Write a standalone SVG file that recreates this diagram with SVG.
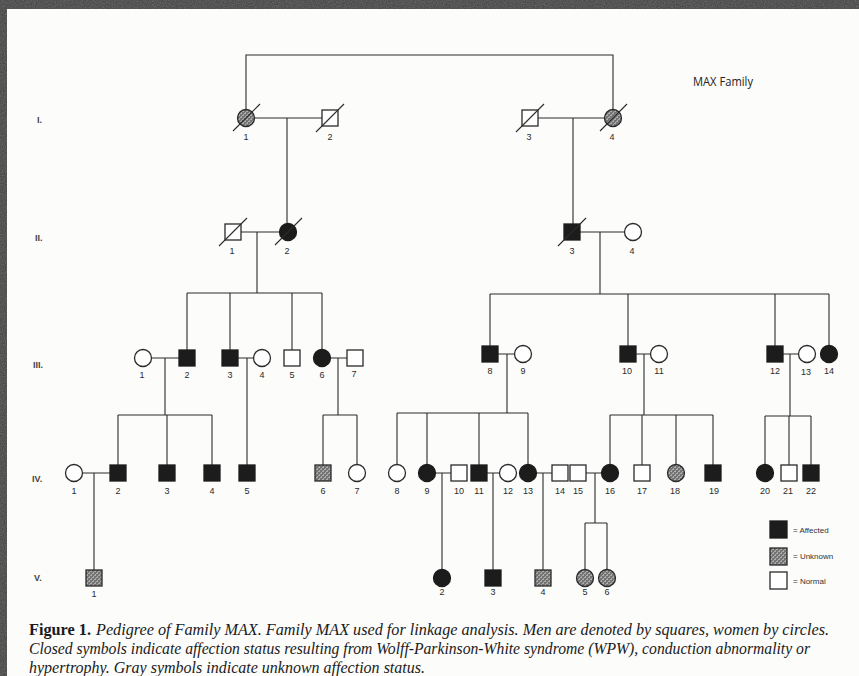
<svg xmlns="http://www.w3.org/2000/svg" width="859" height="676" viewBox="0 0 859 676">
<defs>
<pattern id="hatch" width="4" height="4" patternUnits="userSpaceOnUse">
<rect width="4" height="4" fill="#747474"/>
<path d="M0.5 1.5 L2 0.8 M2.5 3.5 L4 2.8" stroke="#ececec" stroke-width="0.9"/>
</pattern>
<filter id="grain" x="0" y="0" width="100%" height="100%">
<feTurbulence type="fractalNoise" baseFrequency="0.9" numOctaves="2" seed="3"/>
<feColorMatrix type="matrix" values="0 0 0 0 0.25  0 0 0 0 0.25  0 0 0 0 0.25  0 0 0 -1.2 1"/>
</filter>
</defs>
<style>
.ln{stroke:#2a2a2a;stroke-width:1.1;fill:none}
.open{fill:#fff;stroke:#2a2a2a;stroke-width:1.3}
.aff{fill:#1c1c1c;stroke:#1c1c1c;stroke-width:1.3}
.unk{fill:url(#hatch);stroke:#2a2a2a;stroke-width:1.3}
.sl{stroke:#2a2a2a;stroke-width:1.1}
.lbl{font-family:"Liberation Sans",Arial,sans-serif;font-size:9px;fill:#2a2a2a;text-anchor:middle}
.gen{font-family:"Liberation Sans",Arial,sans-serif;font-size:9px;font-weight:bold;fill:#444}
.leg{font-family:"Liberation Sans",Arial,sans-serif;font-size:8px;fill:#333}
.cap{font-family:"Liberation Serif","Times New Roman",serif;font-size:16px;fill:#1a1a1a}
</style>
<rect width="859" height="676" fill="#454545"/>
<rect width="859" height="676" fill="#555" filter="url(#grain)" opacity="0.6"/>
<rect x="7" y="9" width="852" height="667" fill="#fcfcfb"/>

<text class="gen" x="37" y="123">I.</text>
<text class="gen" x="35" y="241">II.</text>
<text class="gen" x="33" y="368">III.</text>
<text class="gen" x="32" y="482">IV.</text>
<text class="gen" x="34" y="581">V.</text>

<text x="693" y="86" font-family="'Open Sans','Liberation Sans',sans-serif" font-size="12" fill="#222" textLength="60" lengthAdjust="spacingAndGlyphs">MAX Family</text>

<g id="connectors" class="ln">
<path d="M246 109.5 V55 H613 V109.5"/>
<path d="M254.5 118 H322 M287 118 V223.5"/>
<path d="M538 118 H604.5 M573 118 V224"/>
<path d="M241 232 H279.5 M257 232 V293"/>
<path d="M580 232 H624.5 M600 232 V294"/>
<path d="M187 293 H322 M187 293 V350 M230 293 V350 M292 293 V350 M322 293 V349.5"/>
<path d="M490 294 H829 M490 294 V346 M628 294 V346 M775 294 V346 M829 294 V345.5"/>
<path d="M151.5 358 H179 M165 358 V415"/>
<path d="M238 358 H253.5 M247 358 V465"/>
<path d="M330.5 358 H347 M338 358 V415"/>
<path d="M498 354 H514.5 M507 354 V413"/>
<path d="M636 354 H650.5 M644 354 V415"/>
<path d="M783 354 H798.5 M790 354 V416"/>
<path d="M118 415 H212 M118 415 V465 M167 415 V465 M212 415 V465"/>
<path d="M323 415 H357 M323 415 V465 M357 415 V464.5"/>
<path d="M397 413 H528 M397 413 V464.5 M427 413 V464.5 M479 413 V465 M528 413 V464.5"/>
<path d="M610 415 H713 M610 415 V464.5 M642 415 V465 M676 415 V464.5 M713 415 V465"/>
<path d="M765 416 H811 M765 416 V464.5 M789 416 V465 M811 416 V465"/>
<path d="M82.5 473 H110 M94 473 V570"/>
<path d="M435.5 473 H451 M442 473 V569.5"/>
<path d="M487 473 H499.5 M493 473 V570"/>
<path d="M536.5 473 H552 M543 473 V570"/>
<path d="M586 473 H601.5 M595 473 V523 M585 523 H607 M585 523 V569.5 M607 523 V569.5"/>
</g>

<g id="I-1"><circle class="unk" cx="246" cy="118" r="8.5"/><line class="sl" x1="233" y1="131" x2="260" y2="104"/><text class="lbl" x="246" y="140">1</text></g>
<g id="I-2"><rect class="open" x="322" y="110" width="16" height="16"/><line class="sl" x1="316" y1="132" x2="344" y2="104"/><text class="lbl" x="330" y="140">2</text></g>
<g id="I-3"><rect class="open" x="522" y="110" width="16" height="16"/><line class="sl" x1="516" y1="132" x2="544" y2="104"/><text class="lbl" x="529" y="140">3</text></g>
<g id="I-4"><circle class="unk" cx="613" cy="118" r="8.5"/><line class="sl" x1="600" y1="131" x2="627" y2="104"/><text class="lbl" x="612" y="140">4</text></g>

<g id="II-1"><rect class="open" x="225" y="224" width="16" height="16"/><line class="sl" x1="219" y1="246" x2="247" y2="218"/><text class="lbl" x="232" y="254">1</text></g>
<g id="II-2"><circle class="aff" cx="288" cy="232" r="8.5"/><line class="sl" x1="275" y1="245" x2="302" y2="218"/><text class="lbl" x="287" y="254">2</text></g>
<g id="II-3"><rect class="aff" x="564" y="224" width="16" height="16"/><line class="sl" x1="558" y1="246" x2="586" y2="218"/><text class="lbl" x="572" y="254">3</text></g>
<g id="II-4"><circle class="open" cx="633" cy="232" r="8.5"/><text class="lbl" x="632" y="254">4</text></g>

<g id="III-1"><circle class="open" cx="143" cy="358" r="8.5"/><text class="lbl" x="142" y="378">1</text></g>
<g id="III-2"><rect class="aff" x="179" y="350" width="16" height="16"/><text class="lbl" x="187" y="378">2</text></g>
<g id="III-3"><rect class="aff" x="222" y="350" width="16" height="16"/><text class="lbl" x="230" y="378">3</text></g>
<g id="III-4"><circle class="open" cx="262" cy="358" r="8.5"/><text class="lbl" x="262" y="378">4</text></g>
<g id="III-5"><rect class="open" x="284" y="350" width="16" height="16"/><text class="lbl" x="292" y="378">5</text></g>
<g id="III-6"><circle class="aff" cx="322" cy="358" r="8.5"/><text class="lbl" x="322" y="378">6</text></g>
<g id="III-7"><rect class="open" x="347" y="350" width="16" height="16"/><text class="lbl" x="354" y="377">7</text></g>
<g id="III-8"><rect class="aff" x="482" y="346" width="16" height="16"/><text class="lbl" x="490" y="374">8</text></g>
<g id="III-9"><circle class="open" cx="523" cy="354" r="8.5"/><text class="lbl" x="523" y="374">9</text></g>
<g id="III-10"><rect class="aff" x="620" y="346" width="16" height="16"/><text class="lbl" x="627" y="374">10</text></g>
<g id="III-11"><circle class="open" cx="659" cy="354" r="8.5"/><text class="lbl" x="659" y="374">11</text></g>
<g id="III-12"><rect class="aff" x="767" y="346" width="16" height="16"/><text class="lbl" x="775" y="374">12</text></g>
<g id="III-13"><circle class="open" cx="807" cy="354" r="8.5"/><text class="lbl" x="806" y="375">13</text></g>
<g id="III-14"><circle class="aff" cx="829" cy="354" r="8.5"/><text class="lbl" x="829" y="374">14</text></g>

<g id="IV-1"><circle class="open" cx="74" cy="473" r="8.5"/><text class="lbl" x="74" y="494">1</text></g>
<g id="IV-2"><rect class="aff" x="110" y="465" width="16" height="16"/><text class="lbl" x="118" y="494">2</text></g>
<g id="IV-3"><rect class="aff" x="159" y="465" width="16" height="16"/><text class="lbl" x="167" y="494">3</text></g>
<g id="IV-4"><rect class="aff" x="204" y="465" width="16" height="16"/><text class="lbl" x="212" y="494">4</text></g>
<g id="IV-5"><rect class="aff" x="239" y="465" width="16" height="16"/><text class="lbl" x="247" y="494">5</text></g>
<g id="IV-6"><rect class="unk" x="315" y="465" width="16" height="16"/><text class="lbl" x="323" y="494">6</text></g>
<g id="IV-7"><circle class="open" cx="357" cy="473" r="8.5"/><text class="lbl" x="357" y="494">7</text></g>
<g id="IV-8"><circle class="open" cx="397" cy="473" r="8.5"/><text class="lbl" x="397" y="494">8</text></g>
<g id="IV-9"><circle class="aff" cx="427" cy="473" r="8.5"/><text class="lbl" x="427" y="494">9</text></g>
<g id="IV-10"><rect class="open" x="451" y="465" width="16" height="16"/><text class="lbl" x="459" y="494">10</text></g>
<g id="IV-11"><rect class="aff" x="471" y="465" width="16" height="16"/><text class="lbl" x="479" y="494">11</text></g>
<g id="IV-12"><circle class="open" cx="508" cy="473" r="8.5"/><text class="lbl" x="508" y="494">12</text></g>
<g id="IV-13"><circle class="aff" cx="528" cy="473" r="8.5"/><text class="lbl" x="528" y="494">13</text></g>
<g id="IV-14"><rect class="open" x="552" y="465" width="16" height="16"/><text class="lbl" x="560" y="494">14</text></g>
<g id="IV-15"><rect class="open" x="570" y="465" width="16" height="16"/><text class="lbl" x="578" y="494">15</text></g>
<g id="IV-16"><circle class="aff" cx="610" cy="473" r="8.5"/><text class="lbl" x="610" y="494">16</text></g>
<g id="IV-17"><rect class="open" x="634" y="465" width="16" height="16"/><text class="lbl" x="642" y="494">17</text></g>
<g id="IV-18"><circle class="unk" cx="676" cy="473" r="8.5"/><text class="lbl" x="675" y="494">18</text></g>
<g id="IV-19"><rect class="aff" x="705" y="465" width="16" height="16"/><text class="lbl" x="714" y="494">19</text></g>
<g id="IV-20"><circle class="aff" cx="765" cy="473" r="8.5"/><text class="lbl" x="765" y="494">20</text></g>
<g id="IV-21"><rect class="open" x="781" y="465" width="16" height="16"/><text class="lbl" x="788" y="494">21</text></g>
<g id="IV-22"><rect class="aff" x="803" y="465" width="16" height="16"/><text class="lbl" x="811" y="494">22</text></g>

<g id="V-1"><rect class="unk" x="86" y="570" width="16" height="16"/><text class="lbl" x="94" y="597">1</text></g>
<g id="V-2"><circle class="aff" cx="442" cy="578" r="8.5"/><text class="lbl" x="442" y="595">2</text></g>
<g id="V-3"><rect class="aff" x="485" y="570" width="16" height="16"/><text class="lbl" x="493" y="595">3</text></g>
<g id="V-4"><rect class="unk" x="535" y="570" width="16" height="16"/><text class="lbl" x="543" y="595">4</text></g>
<g id="V-5"><circle class="unk" cx="585" cy="578" r="8.5"/><text class="lbl" x="585" y="595">5</text></g>
<g id="V-6"><circle class="unk" cx="607" cy="578" r="8.5"/><text class="lbl" x="607" y="595">6</text></g>

<g id="legend">
<rect class="aff" x="770" y="521" width="17" height="17"/>
<text class="leg" x="793" y="533">= Affected</text>
<rect class="unk" x="770" y="548" width="17" height="17"/>
<text class="leg" x="793" y="559">= Unknown</text>
<rect class="open" x="770" y="572" width="17" height="17"/>
<text class="leg" x="793" y="584">= Normal</text>
</g>

<g id="caption">
<text class="cap" x="29" y="635" font-weight="bold" textLength="62" lengthAdjust="spacingAndGlyphs">Figure 1.</text>
<text class="cap" x="96" y="635" font-style="italic" textLength="733" lengthAdjust="spacingAndGlyphs">Pedigree of Family MAX. Family MAX used for linkage analysis. Men are denoted by squares, women by circles.</text>
<text class="cap" x="29" y="654" font-style="italic" textLength="781" lengthAdjust="spacingAndGlyphs">Closed symbols indicate affection status resulting from Wolff-Parkinson-White syndrome (WPW), conduction abnormality or</text>
<text class="cap" x="29" y="673" font-style="italic" textLength="396" lengthAdjust="spacingAndGlyphs">hypertrophy. Gray symbols indicate unknown affection status.</text>
</g>
</svg>
